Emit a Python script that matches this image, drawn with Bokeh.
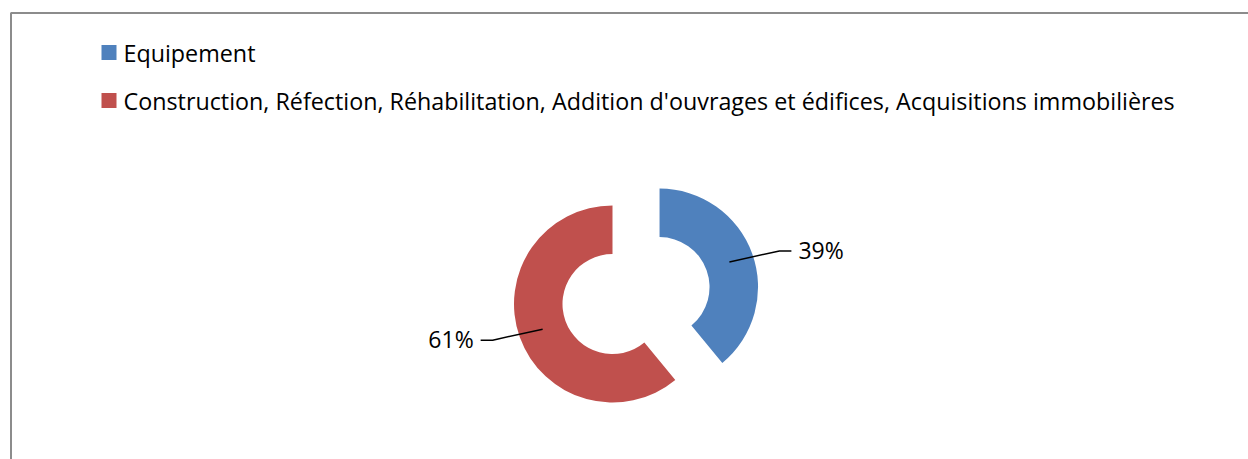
import math
from bokeh.plotting import figure
from bokeh.models import Range1d
from bokeh.core.properties import value
from bokeh.embed import file_html
from bokeh.resources import INLINE

# ---- data ----
categories = ["Equipement",
              "Construction, Réfection, Réhabilitation, Addition d'ouvrages et édifices, Acquisitions immobilières"]
shares = [39, 61]
labels = ["39%", "61%"]
colors = ["#4F81BD", "#C0504D"]
explode = [50, 0]

W, H = 1248, 459
def sy(y):
    return H - y

p = figure(width=W, height=H, output_backend="svg", toolbar_location=None,
           x_range=Range1d(0, W), y_range=Range1d(0, H), min_border=0,
           background_fill_color="white", border_fill_color="white")
p.axis.visible = False
p.grid.visible = False
p.outline_line_color = None

# chart border (extends beyond window right/bottom)
p.quad(left=[10.5], right=[W + 50], top=[sy(12.5)], bottom=[-50],
       fill_alpha=0, line_color="#8C8C8C", line_width=2)

# legend
FONT = "Open Sans"
leg_y = [52, 100]
p.rect(x=[108.5] * 2, y=[sy(v) for v in leg_y], width=15, height=15,
       fill_color=colors, line_color=None)
p.text(x=[123] * 2, y=[sy(v) for v in leg_y], text=categories,
       text_font=value(FONT), text_font_size="23.3px", text_baseline="middle",
       text_align="left", text_color="black")

# donut
cx, cy = 612, sy(303.5)
r_in, r_out = 50, 98.5
total = sum(shares)
start = math.pi / 2
xs, ys, a0s, a1s = [], [], [], []
for i, s in enumerate(shares):
    span = s / total * 2 * math.pi
    a0 = start
    a1 = start - span
    mid = (a0 + a1) / 2
    x = cx + explode[i] * math.cos(mid)
    y = cy + explode[i] * math.sin(mid)
    xs.append(x); ys.append(y); a0s.append(a1); a1s.append(a0)
    # leader line
    ax = x + (r_in + r_out) / 2 * math.cos(mid)
    ay = y + (r_in + r_out) / 2 * math.sin(mid)
    side = 1 if math.cos(mid) > 0 else -1
    vert = 1 if math.sin(mid) > 0 else -1
    ex, ey = ax + side * 50, ay + vert * 11
    hx = ex + side * 12
    p.line(x=[ax, ex, hx], y=[ay, ey, ey], line_color="black", line_width=1.5)
    p.text(x=[hx + side * 7], y=[ey + 1], text=[labels[i]],
           text_font=value(FONT), text_font_size="23px", text_baseline="middle",
           text_align="left" if side > 0 else "right", text_color="black")
    start = a1

p.annular_wedge(x=xs, y=ys, inner_radius=r_in, outer_radius=r_out,
                start_angle=a0s, end_angle=a1s, direction="anticlock",
                fill_color=colors, line_color=None, level="underlay")

open("out.html", "w").write(file_html(p, INLINE))
